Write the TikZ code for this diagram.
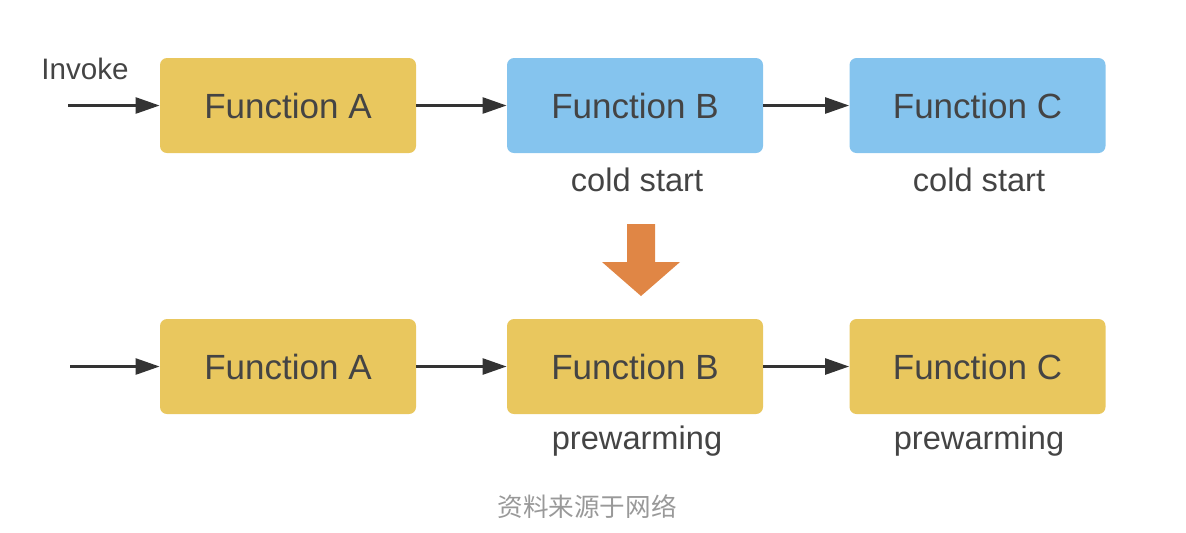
\documentclass[tikz,border=0pt]{standalone}
\usepackage{fontspec}
\setmainfont{Liberation Sans}
\newfontfamily\cjk{Noto Sans CJK SC}
\usepackage{tikz}
\usetikzlibrary{arrows.meta}
\definecolor{fnyellow}{HTML}{E9C75E}
\definecolor{fnblue}{HTML}{85C4EE}
\definecolor{txtgray}{HTML}{444444}
\definecolor{arrgray}{HTML}{333333}
\definecolor{bigorange}{HTML}{E08645}

\begin{document}
\begin{tikzpicture}[x=0.5pt,y=-0.5pt]
        \tikzstyle{fn}=[rounded corners=3.5pt, minimum width=128pt, minimum height=47.5pt, text=txtgray, font=\fontsize{17.5}{20}\selectfont, inner sep=0pt];
        \tikzstyle{note}=[text=txtgray, font=\fontsize{16.3}{19}\selectfont];
        \tikzstyle{link}=[draw=arrgray, line width=1.3pt, -{Triangle[length=12pt, width=8pt]}];
        \useasboundingbox (0,0) rectangle (1186,532);
        % before
        \node[fn, fill=fnyellow] (a1) at (288,105.5) {Function A};
        \node[fn, fill=fnblue] (b1) at (635,105.5) {Function B};
        \node[fn, fill=fnblue] (c1) at (977.5,105.5) {Function C};
        \coordinate (in1) at (68,105.5);
        \node[text=txtgray, font=\fontsize{14.8}{17}\selectfont] (inv) at (85,69) {Invoke};
        \node[note] (cs1) at (637,180) {cold start};
        \node[note] (cs2) at (979,180) {cold start};
        \draw[link] (in1) -- (a1);
        \draw[link] (a1) -- (b1);
        \draw[link] (b1) -- (c1);
        % big arrow
        \fill[bigorange] (627,224) -- (655,224) -- (655,262) -- (680,262) -- (641,296) -- (602,262) -- (627,262) -- cycle;
        % after
        \node[fn, fill=fnyellow] (a2) at (288,366.5) {Function A};
        \node[fn, fill=fnyellow] (b2) at (635,366.5) {Function B};
        \node[fn, fill=fnyellow] (c2) at (977.5,366.5) {Function C};
        \coordinate (in2) at (70,366.5);
        \node[note] (pw1) at (637,441) {prewarming};
        \node[note] (pw2) at (979,441) {prewarming};
        \draw[link] (in2) -- (a2);
        \draw[link] (a2) -- (b2);
        \draw[link] (b2) -- (c2);
        \node[text=black!40, font=\cjk\fontsize{12.8}{15}\selectfont] (src) at (587,507) {资料来源于网络};
    \end{tikzpicture}
\end{document}
